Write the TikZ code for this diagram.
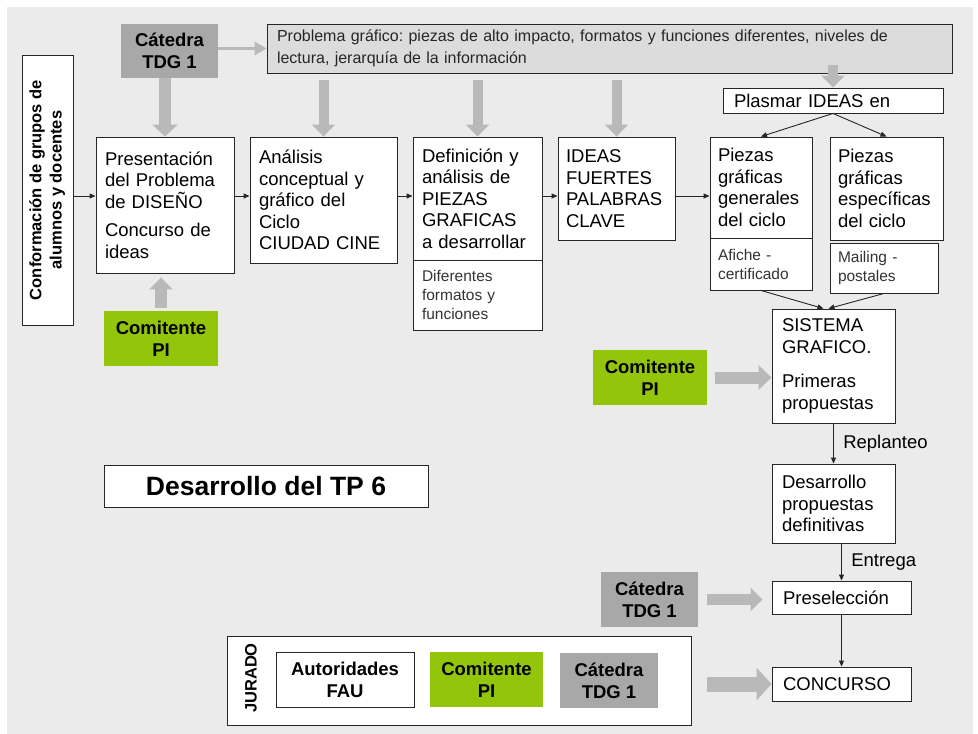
\documentclass[tikz,border=0pt]{standalone}
\usepackage{fontspec}
\setmainfont{Liberation Sans}
\usepackage{graphicx}
\usetikzlibrary{arrows.meta}
\frenchspacing

\definecolor{fondo}{HTML}{EBEBEB}
\definecolor{probgris}{HTML}{DCDCDC}
\definecolor{catgris}{HTML}{A8A8A8}
\definecolor{flechagris}{HTML}{B9B9B9}
\definecolor{verde}{RGB}{147,198,10}

\newcommand{\txt}{\fontsize{18.5}{21.5}\selectfont}
\newcommand{\chico}{\fontsize{15.5}{19}\selectfont}
\newcommand{\negrita}{\fontsize{18.5}{22}\selectfont\bfseries}

\tikzset{
	caja/.style = {draw = black!85, line width = 0.9pt, fill = white, inner sep = 0pt, align = left, font = \txt},
	cajachica/.style = {caja, font = \chico, text = black!80},
	actor/.style = {inner sep = 0pt, align = center, font = \negrita, minimum width = 97pt, minimum height = 55pt},
	flecha/.style = {draw = black!85, line width = 0.9pt, -{Triangle[width = 5pt, length = 6pt]}},
	flechafina/.style = {draw = flechagris, line width = 3pt, -{Triangle[width = 13pt, length = 12pt]}},
	flechagruesa/.style = {draw = flechagris, line width = 10pt, -{Triangle[width = 23pt, length = 12pt]}}
}

\begin{document}
\begin{tikzpicture}[x = 1pt, y = -1pt]
		\useasboundingbox (0,0) rectangle (978,734);
		\fill[fondo] (7,7) rectangle (973,734);

		\node[actor, fill = catgris, minimum height = 54pt] (cat1) at (169.5,51) {Cátedra\\TDG 1};
		\node[caja, fill = probgris, font = \fontsize{16}{22}\selectfont, text = black!85, minimum width = 685pt, minimum height = 49pt, text width = 665pt] (prob) at (609.5,48.5) {Problema gráfico: piezas de alto impacto, formatos y funciones diferentes, niveles de\\lectura, jerarquía de la información};

		\node[caja, align = center, minimum width = 51pt, minimum height = 270pt] (conf) at (47.5,190) {\rotatebox{90}{\fontsize{16.5}{20}\selectfont\bfseries\begin{tabular}{@{}c@{}}Conformación de grupos de\\alumnos y docentes\end{tabular}}};

		\node[caja, minimum width = 138pt, minimum height = 136pt, text width = 120pt] (pres) at (165,205) {Presentación\\del Problema\\de DISEÑO\\[7pt]Concurso de\\ideas};
		\node[caja, minimum width = 147pt, minimum height = 126pt, text width = 129pt] (ana) at (323.5,200) {Análisis\\conceptual y\\gráfico del\\Ciclo\\CIUDAD CINE};
		\node[caja, minimum width = 129pt, minimum height = 123pt, text width = 111pt] (defi) at (477.5,198.5) {Definición y\\análisis de\\PIEZAS\\GRAFICAS\\a desarrollar};
		\node[cajachica, minimum width = 129pt, minimum height = 70pt, text width = 111pt] (defl) at (477.5,295) {Diferentes\\formatos y\\funciones};
		\node[caja, minimum width = 117pt, minimum height = 103pt, text width = 101pt] (ideas) at (616.5,188.5) {IDEAS\\FUERTES\\PALABRAS\\CLAVE};

		\node[caja, minimum width = 220pt, minimum height = 25pt, text width = 198pt] (plas) at (833,100.5) {Plasmar IDEAS en};
		\node[caja, minimum width = 102pt, minimum height = 101pt, text width = 86pt] (pgen) at (761,187.5) {Piezas\\gráficas\\generales\\del ciclo};
		\node[cajachica, minimum width = 102pt, minimum height = 52pt, text width = 86pt] (pgenl) at (761,264) {Afiche -\\certificado};
		\node[caja, minimum width = 113pt, minimum height = 103pt, text width = 97pt] (pesp) at (886.5,188.5) {Piezas\\gráficas\\específicas\\del ciclo};
		\node[cajachica, minimum width = 108pt, minimum height = 50pt, text width = 92pt] (pespl) at (884,268) {Mailing -\\postales};

		\node[actor, fill = verde, minimum width = 114pt] (com1) at (161,338.5) {Comitente\\PI};
		\node[actor, fill = verde, minimum width = 114pt] (com2) at (650,377.5) {Comitente\\PI};
		\node[caja, minimum width = 123pt, minimum height = 114pt, text width = 103pt] (sis) at (833.5,366) {SISTEMA\\GRAFICO.\\[13pt]Primeras\\propuestas};
		\node[caja, minimum width = 123pt, minimum height = 79pt, text width = 103pt] (desa) at (833.5,503.5) {Desarrollo\\propuestas\\definitivas};

		\node[caja, align = center, font = \fontsize{26.5}{30}\selectfont\bfseries, minimum width = 324pt, minimum height = 42pt] (tp6) at (266,486) {Desarrollo del TP 6};

		\node[actor, fill = catgris] (cat2) at (649.5,599.5) {Cátedra\\TDG 1};
		\node[caja, minimum width = 139pt, minimum height = 33pt, text width = 117pt] (presel) at (841.5,597.5) {Preselección};
		\node[caja, minimum width = 139pt, minimum height = 34pt, text width = 117pt] (conc) at (841.5,684) {CONCURSO};

		\node[caja, minimum width = 464pt, minimum height = 89pt] (jur) at (459,680.5) {};
		\node[font = \fontsize{16.5}{20}\selectfont\bfseries, rotate = 90, inner sep = 0pt] (jurlab) at (251,678) {JURADO};
		\node[caja, align = center, font = \negrita, minimum width = 138pt, minimum height = 55pt] (aut) at (345,679.5) {Autoridades\\FAU};
		\node[actor, fill = verde, minimum width = 113pt] (com3) at (486.5,679.5) {Comitente\\PI};
		\node[actor, fill = catgris, minimum width = 98pt] (cat3) at (609,680.5) {Cátedra\\TDG 1};

		% edges
		\coordinate (fila) at (0,196);
		\coordinate (probin) at ([yshift = 8pt]prob.south);
		\draw[flecha] (conf.east |- fila) -- (pres.west |- fila);
		\draw[flecha] (pres.east |- fila) -- (ana.west |- fila);
		\draw[flecha] (ana.east |- fila) -- (defi.west |- fila);
		\draw[flecha] (defi.east |- fila) -- (ideas.west |- fila);
		\draw[flecha] (ideas.east |- fila) -- (pgen.west |- fila);
		\draw[flecha] (plas.south) -- (pgen.north);
		\draw[flecha] (plas.south) -- (pesp.north);
		\draw[flecha] (pgenl.south) -- ([xshift = -10pt]sis.north);
		\draw[flecha] (pespl.south) -- ([xshift = -5pt]sis.north);
		\draw[flecha] (sis.south) -- (desa.north) node[midway, right = 6pt, font = \txt] {Replanteo};
		\draw[flecha] (desa.south -| presel.north) -- (presel.north) node[midway, right = 6pt, font = \txt] {Entrega};
		\draw[flecha] (presel.south) -- (conc.north);

		\draw[flechafina] (cat1.east |- prob.west) -- (prob.west);
		\draw[flechagruesa, line width = 12pt, -{Triangle[width = 25pt, length = 12pt]}] (cat1.south -| pres.north) -- (pres.north);
		\foreach \dest in {ana, defi, ideas}
			\draw[flechagruesa, shorten <= 7pt] (prob.south -| \dest.north) -- (\dest.north);
		\draw[flechagruesa] (probin -| plas.north) -- (plas.north);
		\draw[flechagruesa, line width = 12pt, shorten <= 3pt, shorten >= 4pt] (com1.north) -- (com1.north |- pres.south);
		\draw[flechagruesa, line width = 12pt, -{Triangle[width = 24pt, length = 13pt]}, shorten <= 8pt] (com2.east) -- (com2.east -| sis.west);
		\draw[flechagruesa, line width = 11pt, shorten <= 9pt, shorten >= 9pt] (cat2.east) -- (cat2.east -| presel.west);
		\draw[flechagruesa, line width = 15pt, -{Triangle[width = 32pt, length = 15pt]}, shorten <= 16pt] (jur.east |- conc.west) -- (conc.west);
\end{tikzpicture}
\end{document}
